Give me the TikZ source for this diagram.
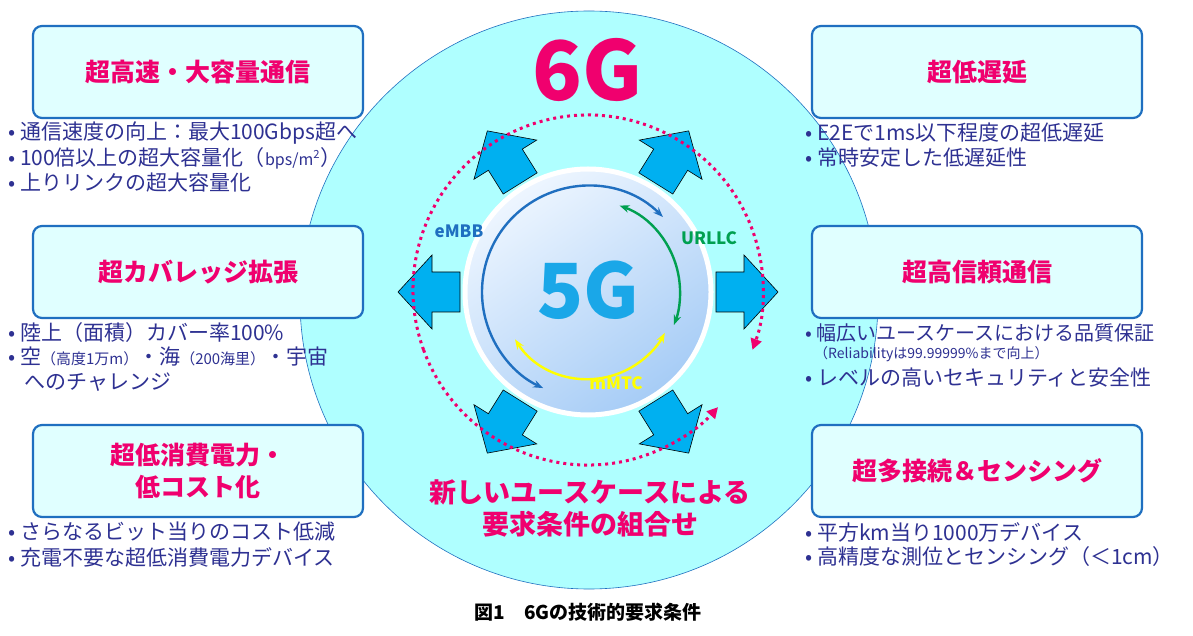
\documentclass[tikz,border=0pt]{standalone}
\usepackage{fontspec}
\setmainfont{Noto Sans CJK JP}
\usetikzlibrary{arrows.meta,shadows}
\definecolor{bigc}{HTML}{AFFFFF}
\definecolor{bord}{HTML}{1F6FC0}
\definecolor{boxf}{HTML}{E0FFFF}
\definecolor{mag}{HTML}{F0006E}
\definecolor{txt}{HTML}{2E3192}
\definecolor{cy}{HTML}{00B0F0}
\definecolor{fg}{HTML}{1AA7E8}
\definecolor{gr}{HTML}{00A050}
\definecolor{yl}{HTML}{FFFF00}
\definecolor{ctop}{HTML}{EEF6FF}
\definecolor{cbot}{HTML}{A6CCF6}
\tikzset{
 tbox/.style={draw=bord,line width=2.2pt,fill=boxf,rounded corners=9pt,minimum width=330pt,minimum height=92pt,font=\fontsize{25}{32}\selectfont\bfseries,text=mag,align=center},
 bul/.style={anchor=west,text=txt,font=\fontsize{21}{23}\selectfont,inner sep=0pt},
 barrow/.style={draw=black,fill=cy,line width=0.6pt,line join=miter},
 dots/.style={mag,line width=3pt,dash pattern=on 3pt off 4pt,-{Triangle[length=11pt,width=11pt]}},
 inarc/.style={line width=2.4pt,{Stealth[length=10pt]}-{Stealth[length=10pt]}},
}
\newcommand{\bl}{\textbullet\ }
\begin{document}
\begin{tikzpicture}[x=1pt,y=1pt]
\useasboundingbox (0,0) rectangle (1193,635);
\fill[white] (0,0) rectangle (1193,635);
\node[circle,draw=bord,line width=0.6pt,fill=bigc,minimum size=578pt,inner sep=0pt] (big) at (589,335) {};
\coordinate (c5) at (588,343);
\foreach \a in {0,58,122,180,238,302}{
 \begin{scope}[shift={(c5)},rotate=\a]
 \draw[barrow] (128,-20)--(156,-20)--(156,-37)--(190,0)--(156,37)--(156,20)--(128,20)--cycle;
 \end{scope}}
\node[circle,draw=white,line width=5pt,inner sep=0pt,minimum size=246pt,
 top color=ctop,bottom color=cbot,shading angle=35,
 drop shadow={shadow xshift=1.5pt,shadow yshift=-1.5pt,fill=gray!60}] (c5g) at (c5) {};
\coordinate (dc) at (588,345);
\draw[dots] (dc) ++(200:175) arc[start angle=200,end angle=-20,radius=175];
\draw[dots] (dc) ++(200:175) arc[start angle=200,end angle=318,radius=175];
\draw[bord,inarc] (c5) ++(45:106) arc[start angle=45,end angle=245,radius=106];
\draw[gr,inarc] (c5) ++(70:92) arc[start angle=70,end angle=-21,radius=92];
\draw[yl,inarc] (c5) ++(-147:87) arc[start angle=-147,end angle=-28,radius=87];
\node[font=\fontsize{76}{76}\selectfont\bfseries,text=fg] (t5) at (588,345) {5G};
\node[font=\fontsize{82}{82}\selectfont\bfseries,text=mag] (t6) at (588,565) {6G};
\node[font=\fontsize{17}{17}\selectfont\bfseries,text=bord] (em) at (459,404) {eMBB};
\node[font=\fontsize{17}{17}\selectfont\bfseries,text=gr] (ur) at (709,397) {URLLC};
\node[font=\fontsize{17}{17}\selectfont\bfseries,text=yl] (mm) at (616,252) {mMTC};
\node[font=\fontsize{27}{32}\selectfont\bfseries,text=mag,align=center] (nu) at (590,127) {新しいユースケースによる\\要求条件の組合せ};
\node[tbox] (b1) at (198,563) {超高速・大容量通信};
\node[tbox] (b2) at (198,363) {超カバレッジ拡張};
\node[tbox] (b3) at (198,164) {超低消費電力・\\低コスト化};
\node[tbox] (b4) at (977,563) {超低遅延};
\node[tbox] (b5) at (977,363) {超高信頼通信};
\node[tbox] (b6) at (977,164) {超多接続＆センシング};
\node[bul] (l1) at (8,502) {\bl 通信速度の向上：最大100Gbps超へ};
\node[bul] (l2) at (8,477) {\bl 100倍以上の超大容量化（{\fontsize{16}{16}\selectfont bps/m\textsuperscript{2}}）};
\node[bul] (l3) at (8,452) {\bl 上りリンクの超大容量化};
\node[bul] (l4) at (8,302) {\bl 陸上（面積）カバー率100\%};
\node[bul] (l5) at (8,278) {\bl 空{\fontsize{15}{15}\selectfont（高度1万m）}・海{\fontsize{15}{15}\selectfont（200海里）}・宇宙};
\node[bul] (l6) at (24,253) {へのチャレンジ};
\node[bul] (l7) at (8,103) {\bl さらなるビット当りのコスト低減};
\node[bul] (l8) at (8,78) {\bl 充電不要な超低消費電力デバイス};
\node[bul] (r1) at (805,502) {\bl E2Eで1ms以下程度の超低遅延};
\node[bul] (r2) at (805,477) {\bl 常時安定した低遅延性};
\node[bul,font=\fontsize{20}{22}\selectfont] (r3) at (805,302) {\bl 幅広いユースケースにおける品質保証};
\node[bul,font=\fontsize{14}{14}\selectfont] (r4) at (814,281) {（Reliabilityは99.99999\%まで向上）};
\node[bul] (r5) at (805,257) {\bl レベルの高いセキュリティと安全性};
\node[bul] (r6) at (805,103) {\bl 平方km当り1000万デバイス};
\node[bul] (r7) at (805,78) {\bl 高精度な測位とセンシング（＜1cm）};
\node[font=\fontsize{19}{19}\selectfont\bfseries] (cap) at (588,23) {図1\quad 6Gの技術的要求条件};
\end{tikzpicture}
\end{document}
